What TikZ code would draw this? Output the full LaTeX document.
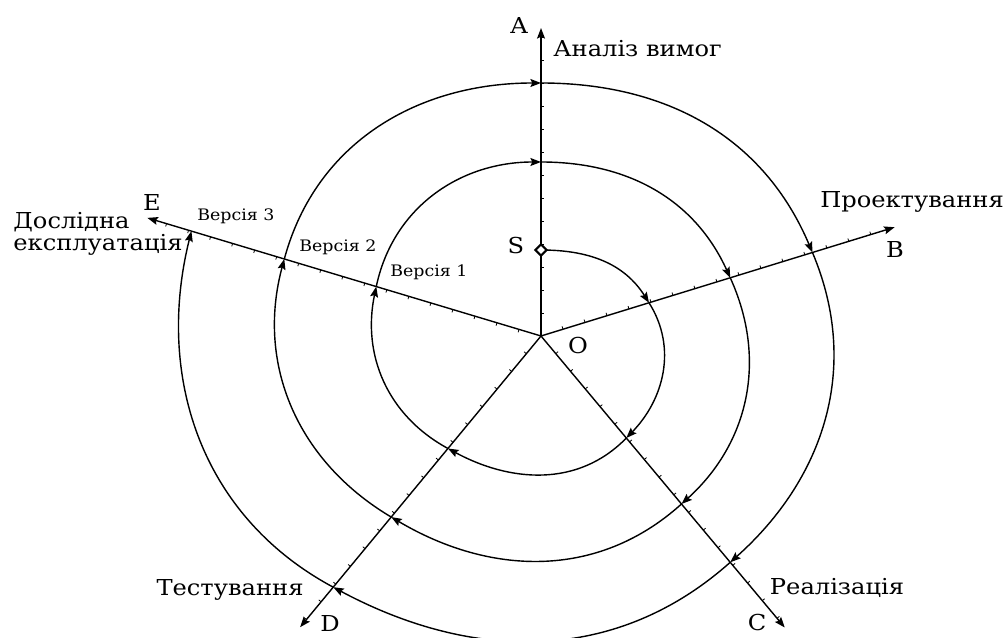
\documentclass[tikz,border=0pt]{standalone}
\usepackage{fontspec}
\setmainfont{DejaVu Serif}[FakeStretch=1.1]
\usetikzlibrary{calc,arrows.meta,shapes.geometric}
\begin{document}
\begin{tikzpicture}[x=0.02cm,y=0.02cm,
  axis/.style={line width=0.8pt,-{Stealth[length=6pt,width=4.5pt,inset=1pt]}},
  spir/.style={line width=0.8pt,-{Stealth[length=6pt,width=4.5pt,inset=1pt]}},
  tickmark/.style={line width=0.45pt},
  big/.style={font=\fontsize{12.5}{14}\selectfont, inner sep=0pt},
  small/.style={font=\fontsize{9}{11}\selectfont, inner sep=0pt}]
\useasboundingbox (0,0) rectangle (1003,638);
\coordinate (O) at (541,302);
% axis tips
\coordinate (A) at ($(O)+(90:308)$);
\coordinate (B) at ($(O)+(17.1:370)$);
\coordinate (C) at ($(O)+(-50.1:380)$);
\coordinate (D) at ($(O)+(-129.6:378)$);
\coordinate (E) at ($(O)+(163.3:411)$);
% axes
\foreach \t in {A,B,C,D,E} \draw[axis] (O) -- (\t);
% ticks
\foreach \ang/\len/\side in {90/300/-90,17.1/360/90,-50.1/370/90,-129.6/368/-90,163.3/400/90}{
  \foreach \d in {23,46,...,\len}{
    \draw[tickmark] ($(O)+(\ang:\d)$) -- ++(\ang+\side:3);
  }
}
% spiral crossing points
\coordinate (S) at ($(O)+(90:86)$);
\coordinate (A2) at ($(O)+(90:174)$);
\coordinate (A3) at ($(O)+(90:253)$);
\coordinate (B1) at ($(O)+(17.1:113)$);
\coordinate (B2) at ($(O)+(17.1:198)$);
\coordinate (B3) at ($(O)+(17.1:284)$);
\coordinate (C1) at ($(O)+(-50.1:133)$);
\coordinate (C2) at ($(O)+(-50.1:219)$);
\coordinate (C3) at ($(O)+(-50.1:295)$);
\coordinate (D1) at ($(O)+(-129.6:146)$);
\coordinate (D2) at ($(O)+(-129.6:235)$);
\coordinate (D3) at ($(O)+(-129.6:326)$);
\coordinate (E1) at ($(O)+(163.3:172)$);
\coordinate (E2) at ($(O)+(163.3:268)$);
\coordinate (E3) at ($(O)+(163.3:365)$);
% spiral
\draw[spir] (S) to[out=0,in=122.3] (B1);
\draw[spir] (B1) to[out=-57.7,in=45.8] (C1);
\draw[spir] (C1) to[out=-134.2,in=-28.5] (D1);
\draw[spir] (D1) to[out=151.5,in=258.1] (E1);
\draw[spir] (E1) to[out=78.1,in=180] (A2);
\draw[spir] (A2) to[out=0,in=114.5] (B2);
\draw[spir] (B2) to[out=-65.5,in=42.1] (C2);
\draw[spir] (C2) to[out=-137.9,in=-30.7] (D2);
\draw[spir] (D2) to[out=149.3,in=254.9] (E2);
\draw[spir] (E2) to[out=74.9,in=180] (A3);
\draw[spir] (A3) to[out=0,in=112.9] (B3);
\draw[spir] (B3) to[out=-67.1,in=41.7] (C3);
\draw[spir] (C3) to[out=-138.3,in=-28.2] (D3);
\draw[spir] (D3) to[out=151.8,in=256] (E3);
% start point
\node[diamond, draw, fill=white, line width=1.2pt, inner sep=0pt, minimum size=0.24cm] (Sd) at (S) {};
% labels
\node[big] (lA) at (519,612) {A};
\node[big, anchor=west] (lAn) at (553,589) {Аналіз вимог};
\node[big] (lPr) at (912,436) {Проектування};
\node[big] (lB) at (895,388) {B};
\node[big] (lRe) at (837,50) {Реалізація};
\node[big] (lC) at (757,15) {C};
\node[big] (lTe) at (230,48) {Тестування};
\node[big] (lD) at (330,15) {D};
\node[big] (lE) at (152,435) {E};
\node[big, anchor=west] (lDo) at (13,416) {Дослідна};
\node[big, anchor=west] (lEk) at (13,393) {експлуатація};
\node[big] (lS) at (516,392) {S};
\node[big] (lO) at (578,292) {O};
\node[small, anchor=west] (v3) at (197,422) {Версія 3};
\node[small, anchor=west] (v2) at (299,391) {Версія 2};
\node[small, anchor=west] (v1) at (390,366) {Версія 1};
\end{tikzpicture}
\end{document}
